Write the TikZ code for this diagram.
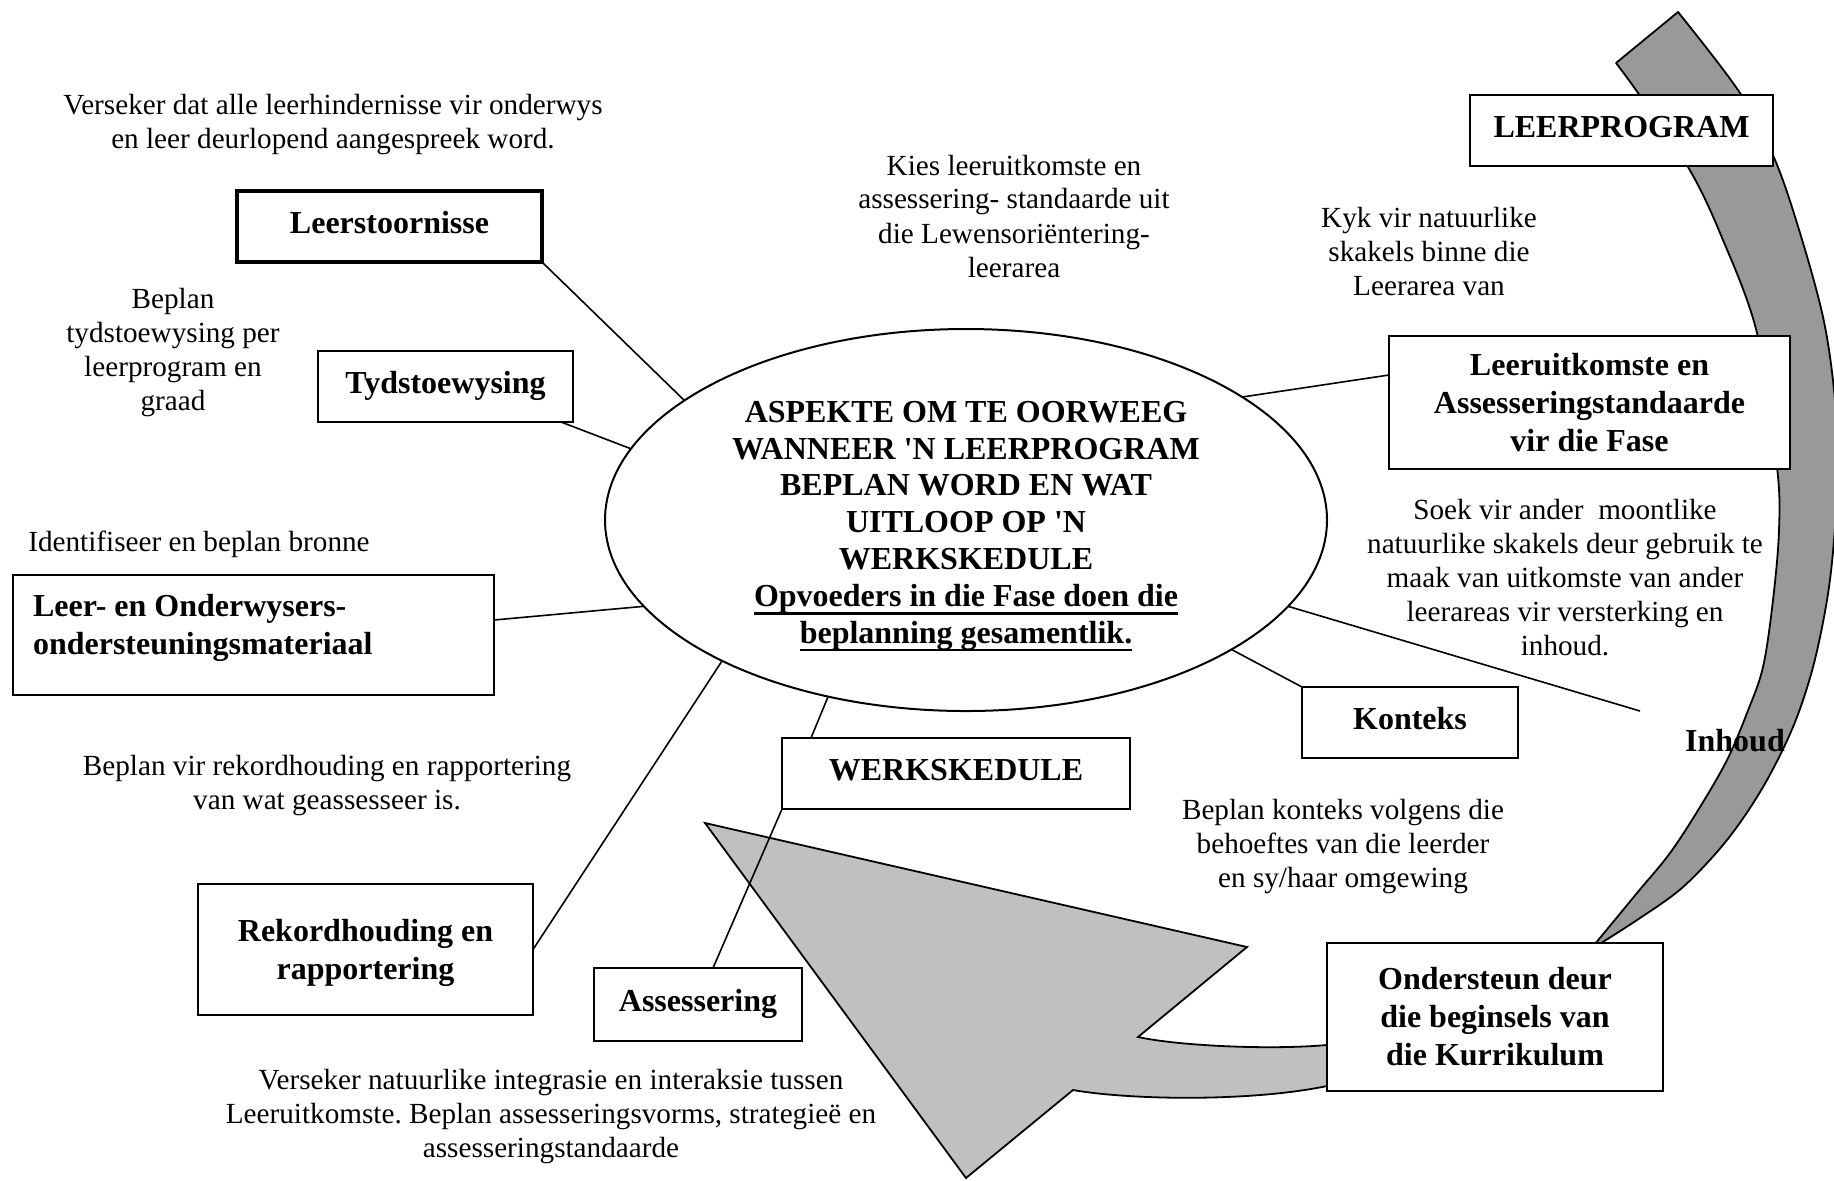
\documentclass[tikz,border=0pt]{standalone}
\usepackage{fontspec}
\setmainfont{Liberation Serif}[Ligatures=TeXOff]
\usetikzlibrary{shapes.geometric}
\definecolor{bandgray}{RGB}{153,153,153}
\definecolor{headgray}{RGB}{192,192,192}
% underline drawn as a rule of given thickness below the baseline
\newcommand\ulbar[2]{\setbox0\hbox{#2}\leavevmode\rlap{\rule[\dimexpr-3.6pt-#1/2\relax]{\wd0}{#1}}\box0}
\frenchspacing
\begin{document}
\begin{tikzpicture}[x=0.5pt,y=-0.5pt,
  box/.style={draw, fill=white, line width=1.1pt, font=\bfseries\fontsize{16}{19}\selectfont, align=center, inner sep=0pt, outer sep=0pt},
  oneline/.style={text height=11pt, text depth=4.5pt},
  note/.style={font=\fontsize{14.6}{17}\selectfont, align=center, inner sep=0pt},
  link/.style={line width=0.8pt},
  band/.style={fill=bandgray, draw=black, line width=0.9pt, line join=round},
  bigarrow/.style={fill=headgray, draw=black, line width=0.9pt, line join=miter}]
\useasboundingbox (0,0) rectangle (1834,1180);

% curved band on the right
\begin{scope}
\clip (0,0) rectangle (1834,1180);
\filldraw[band] plot[smooth, tension=0.55] coordinates {(1678,12) (1740,93) (1775,160) (1800,233) (1823,317) (1834,390) (1838,465) (1834,540) (1827,600) (1813,667) (1793,727) (1763,787) (1727,840) (1683,887) (1637,920) (1590,950)}
  -- plot[smooth, tension=0.55] coordinates {(1590,950) (1637,893) (1670,853) (1700,807) (1727,760) (1747,713) (1763,667) (1773,600) (1779,530) (1777,467) (1757,333) (1720,233) (1688,167) (1638,93) (1616,63)}
  -- cycle;
\end{scope}

% big arrow at the bottom
\filldraw[bigarrow] (705,823) -- (1247,947) -- (1138,1037)
  .. controls (1180,1046) and (1270,1050) .. (1327,1045) -- (1420,1043) -- (1420,1085) -- (1327,1086)
  .. controls (1250,1102) and (1130,1100) .. (1073,1090) -- (966,1178) -- cycle;

% central ellipse
\node[draw, ellipse, fill=white, line width=1pt, minimum width=361pt, minimum height=191pt,
  inner sep=0pt, outer sep=0pt] (E) at (966,520) {};
\node[align=center, inner sep=0pt, text depth=0pt, font=\bfseries\fontsize{16}{18.4}\selectfont] (ET) at (966,522)
  {ASPEKTE OM TE OORWEEG\\WANNEER 'N LEERPROGRAM\\BEPLAN WORD EN WAT\\UITLOOP OP 'N\\WERKSKEDULE\\
   \ulbar{1.4pt}{Opvoeders in die Fase doen die}\\\ulbar{0.9pt}{beplanning gesamentlik.}};

% boxes
\node[box, oneline, line width=2pt, minimum width=152.5pt, minimum height=35.5pt] (B1) at (389.5,226.5) {Leerstoornisse};
\node[box, oneline, minimum width=127.5pt, minimum height=35.5pt] (B2) at (445.5,386.5) {Tydstoewysing};
\node[box, minimum width=240.5pt, minimum height=60pt] (B3) at (253.5,635) {};
\node[box, draw=none, fill=none, align=left, anchor=west] (B3t) at (33,628) {Leer- en Onderwysers-\\ondersteuningsmateriaal};
\node[box, text depth=0pt, minimum width=167.5pt, minimum height=65.5pt] (B4) at (365.5,949.5) {Rekordhouding en\\rapportering};
\node[box, oneline, minimum width=104pt, minimum height=36.5pt] (B5) at (698,1004.5) {Assessering};
\node[box, oneline, minimum width=174pt, minimum height=35.5pt] (B6) at (956,773.5) {WERKSKEDULE};
\node[box, oneline, minimum width=108pt, minimum height=35.5pt] (B7) at (1410,722.5) {Konteks};
\node[box, minimum width=168pt, minimum height=74pt] (B8) at (1495,1017) {Ondersteun deur\\die beginsels van\\die Kurrikulum};
\node[box, minimum width=200.5pt, minimum height=66.5pt] (B9) at (1589.5,402.5) {Leeruitkomste en\\Assesseringstandaarde\\vir die Fase};
\node[box, oneline, minimum width=151.5pt, minimum height=35.5pt] (B10) at (1621.5,130.5) {LEERPROGRAM};

% connectors
\coordinate (inh) at (1640,711);
\draw[link] (E.157) -- (B1.south east);
\draw[link] (E.168) -- ([xshift=-6pt]B2.south east);
\draw[link] (E.195) -- ([yshift=7.5pt]B3.east);
\draw[link] (E.210) -- (B4.east);
\draw[link] (E.232) -- ([xshift=14.5pt]B6.north west);
\draw[link] (B6.south west) -- ([xshift=7.5pt]B5.north);
\draw[link] (E.334) -- (B7.north west);
\draw[link] (E.345) -- (inh);
\draw[link] (E.24) -- ([yshift=13.75pt]B9.west);

% notes
\node[note] (T1) at (333,124.5) {Verseker dat alle leerhindernisse vir onderwys\\en leer deurlopend aangespreek word.};
\node[note] (T2) at (1014,216) {Kies leeruitkomste en\\assessering- standaarde uit\\die Lewensoriëntering-\\leerarea};
\node[note] (T3) at (1429,251) {Kyk vir natuurlike\\skakels binne die\\Leerarea van};
\node[note] (T4) at (173,352.5) {Beplan\\tydstoewysing per\\leerprogram en\\graad};
\node[note] (T5) at (199,544) {Identifiseer en beplan bronne};
\node[note] (T6) at (327,785.5) {Beplan vir rekordhouding en rapportering\\van wat geassesseer is.};
\node[note] (T7) at (1565,578) {Soek vir ander\ \ moontlike\\natuurlike skakels deur gebruik te\\maak van uitkomste van ander\\leerareas vir versterking en\\inhoud.};
\node[note] (T8) at (1343,846.5) {Beplan konteks volgens die\\behoeftes van die leerder\\en sy/haar omgewing};
\node[note] (T9) at (551,1116) {Verseker natuurlike integrasie en interaksie tussen\\Leeruitkomste. Beplan assesseringsvorms, strategieë en\\assesseringstandaarde};
\node[note, font=\bfseries\fontsize{16}{19}\selectfont] (T10) at (1735,741) {Inhoud};
\end{tikzpicture}
\end{document}
